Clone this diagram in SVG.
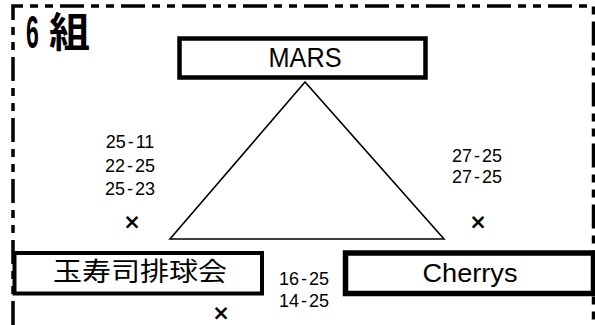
<svg xmlns="http://www.w3.org/2000/svg" width="595" height="325" viewBox="0 0 595 325">
<style>
.frame{fill:none;stroke:#000;stroke-width:3.5;stroke-dasharray:24 7 8 7 8 7}
.box{fill:#fff;stroke:#000}
.lbl{font-family:"Liberation Sans",Arial,sans-serif;fill:#000;text-anchor:middle}
.cjk{font-family:"Noto Sans CJK JP","Noto Sans CJK SC",sans-serif;fill:#000}
.score{font-family:"Liberation Sans",Arial,sans-serif;font-size:18px;fill:#000;text-anchor:middle}
.x{font-family:"DejaVu Sans",sans-serif;font-size:21px;font-weight:bold;fill:#000;text-anchor:middle}
</style>
<rect width="595" height="325" fill="#fff"/>
<path class="frame" d="M13,325 L13,6 L593.5,6 L593.5,325"/>
<g id="title">
<text font-family="'Liberation Sans',Arial,sans-serif" font-weight="bold" font-size="46" fill="#000" transform="translate(26,48) scale(0.5,1)">6</text>
<text class="cjk" font-weight="bold" font-size="41" x="49" y="47">組</text>
</g>
<g id="connectors">
<polygon points="305,82 170,239 444,239" fill="none" stroke="#000" stroke-width="1.6"/>
</g>
<g id="mars">
<rect class="box" x="179.5" y="38.5" width="246" height="39" stroke-width="4.5"/>
<text class="lbl" x="305" y="67" font-size="27" textLength="73" lengthAdjust="spacingAndGlyphs">MARS</text>
</g>
<g id="tamazushi">
<rect class="box" x="14.5" y="253" width="247.5" height="40.5" stroke-width="4"/>
<text class="cjk" x="140" y="281" font-size="26" text-anchor="middle" textLength="174" lengthAdjust="spacingAndGlyphs">玉寿司排球会</text>
</g>
<g id="cherrys">
<rect class="box" x="345.5" y="253" width="248" height="40.5" stroke-width="5.5"/>
<text class="lbl" x="470" y="282" font-size="26" textLength="95" lengthAdjust="spacingAndGlyphs">Cherrys</text>
</g>
<g id="scores">
<text class="score" x="130" y="148">25<tspan dx="2">-</tspan><tspan dx="2">11</tspan></text>
<text class="score" x="130" y="172">22<tspan dx="2">-</tspan><tspan dx="2">25</tspan></text>
<text class="score" x="130" y="195">25<tspan dx="2">-</tspan><tspan dx="2">23</tspan></text>
<text class="x" x="132" y="229">×</text>
<text class="score" x="477" y="162">27<tspan dx="2">-</tspan><tspan dx="2">25</tspan></text>
<text class="score" x="477" y="183">27<tspan dx="2">-</tspan><tspan dx="2">25</tspan></text>
<text class="x" x="478" y="229">×</text>
<text class="score" x="304" y="285">16<tspan dx="2">-</tspan><tspan dx="2">25</tspan></text>
<text class="score" x="304" y="307">14<tspan dx="2">-</tspan><tspan dx="2">25</tspan></text>
<text class="x" x="221" y="320">×</text>
</g>
</svg>
